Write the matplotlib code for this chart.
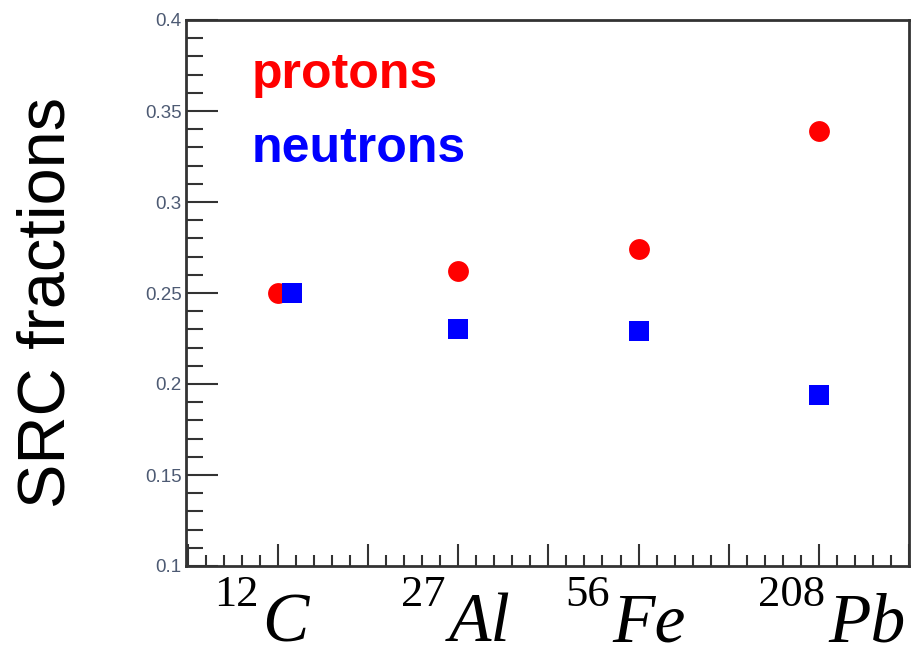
import matplotlib
matplotlib.use("Agg")
import matplotlib.pyplot as plt
from matplotlib.ticker import MultipleLocator, NullFormatter
from matplotlib.transforms import offset_copy

mass_numbers = ["12", "27", "56", "208"]
symbols = ["C", "Al", "Fe", "Pb"]
positions = [1, 3, 5, 7]
neutron_positions = [1.16, 3, 5, 7]
protons = [0.250, 0.262, 0.274, 0.339]
neutrons = [0.250, 0.230, 0.229, 0.194]
ytick_values = [0.1, 0.15, 0.2, 0.25, 0.3, 0.35, 0.4]
ytick_labels = ['0.1', '0.15', '0.2', '0.25', '0.3', '0.35', '0.4']

fig = plt.figure(figsize=(9.16, 6.56), dpi=100)
ax = fig.add_axes([186/916, 1-566/656, 723/916, 546/656])

ax.plot(positions, protons, 'o', color='#ff0000', ms=15, mew=0, zorder=3)
ax.plot(neutron_positions, neutrons, 's', color='#0000ff', ms=15, mew=0, zorder=4)

ax.set_xlim(-0.02, 8.0)
ax.set_ylim(0.1, 0.4)

ax.xaxis.set_major_locator(MultipleLocator(1))
ax.xaxis.set_minor_locator(MultipleLocator(0.2))
ax.xaxis.set_major_formatter(NullFormatter())
ax.yaxis.set_minor_locator(MultipleLocator(0.01))
ax.set_yticks(ytick_values)
ax.set_yticklabels(ytick_labels, fontfamily='Liberation Sans')

for s in ax.spines.values():
    s.set_linewidth(2)
    s.set_color('#333333')

ax.tick_params(axis='x', which='major', direction='in', length=16, width=1.5, color='#333333', bottom=True, top=False)
ax.tick_params(axis='x', which='minor', direction='in', length=8, width=1.5, color='#333333', bottom=True, top=False)
ax.tick_params(axis='y', which='major', direction='in', length=23, width=1.5, color='#333333', left=True, right=False,
               labelsize=13.5, labelcolor='#4d5a73', pad=3)
ax.tick_params(axis='y', which='minor', direction='in', length=12, width=1.5, color='#333333', left=True, right=False)

# nucleus labels under the axis: superscript mass number + italic symbol
join_offsets = [-0.19, -0.12, -0.30, 0.09]
trans = ax.get_xaxis_transform()
for p, off, a, sym in zip(positions, join_offsets, mass_numbers, symbols):
    ax.text(p + off, -(641-566)/546, sym, transform=offset_copy(trans, fig=fig, x=1, y=0, units='dots'),
            ha='left', va='baseline', fontsize=50, fontstyle='italic',
            fontfamily='Liberation Serif', color='black')
    ax.text(p + off, -(606-566)/546, a, transform=offset_copy(trans, fig=fig, x=-2, y=0, units='dots'),
            ha='right', va='baseline', fontsize=32,
            fontfamily='Liberation Serif', color='black')

ax.text(0.091, 0.875, 'protons', transform=ax.transAxes, color='#ff0000', fontsize=36,
        fontweight='bold', fontfamily='Liberation Sans', ha='left', va='baseline')
ax.text(0.091, 0.74, 'neutrons', transform=ax.transAxes, color='#0000ff', fontsize=36,
        fontweight='bold', fontfamily='Liberation Sans', ha='left', va='baseline')

fig.text(48/916, 1-302/656, 'SRC fractions', rotation=90, ha='center', va='center',
         fontsize=48, fontfamily='Liberation Sans')

fig.savefig('out.png', dpi=100)
